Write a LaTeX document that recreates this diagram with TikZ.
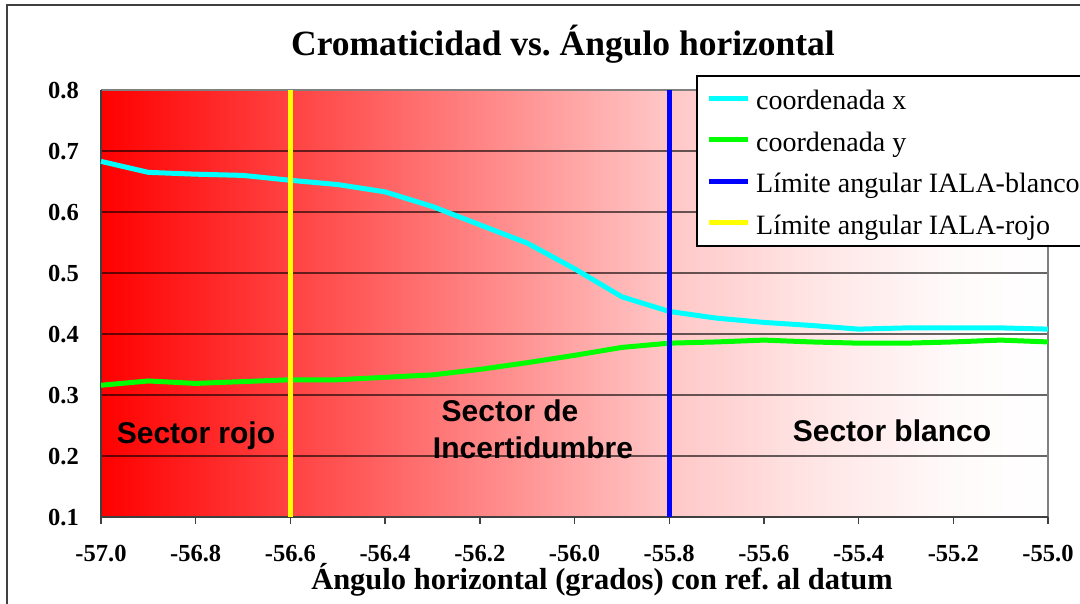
\documentclass[tikz,border=0pt]{standalone}
\usepackage{fontspec}
\setmainfont{Liberation Serif}
\newfontfamily\secfont{Liberation Sans}
\frenchspacing
\definecolor{framegray}{RGB}{64,64,64}
\definecolor{bordergray}{RGB}{128,128,128}
\definecolor{serx}{RGB}{0,255,255}
\definecolor{sery}{RGB}{0,255,0}
\definecolor{limblue}{RGB}{0,0,255}
\definecolor{limyellow}{RGB}{255,255,0}
\definecolor{bgred}{RGB}{255,0,0}
\pgfdeclarehorizontalshading{plotbg}{100bp}{%
  color(0bp)=(bgred); color(25bp)=(bgred);
  color(35bp)=(bgred!74!white);
  color(40.8bp)=(bgred!59!white);
  color(50bp)=(bgred!35!white);
  color(55bp)=(bgred!22!white);
  color(62bp)=(bgred!11!white);
  color(70bp)=(bgred!2!white);
  color(75bp)=(white); color(100bp)=(white)}
\begin{document}
\begin{tikzpicture}[x=1pt,y=-1pt,
  declare function={X(\v)=101+(\v+57)*473.5; Y(\w)=517-(\w-0.1)*610;},
  gridline/.style={black,opacity=0.6,line width=1.4pt},
  series/.style={line width=5pt,line join=round},
  vline/.style={line width=5pt},
  ticklab/.style={font=\fontsize{24.5}{24.5}\selectfont\bfseries,inner sep=0pt},
  sectorlab/.style={font=\secfont\fontsize{30}{30}\selectfont\bfseries,inner sep=0pt,anchor=base},
  legtext/.style={font=\fontsize{28}{28}\selectfont,inner sep=0pt,anchor=base west},
  legsample/.style={line width=5pt}]
\clip (0,0) rectangle (1080,604);
\useasboundingbox (0,0) rectangle (1080,604);
\fill[white] (0,0) rectangle (1080,604);
% outer chart frame
\draw[framegray,line width=2pt] (7,5) rectangle (1090,615);
% title
\node[font=\fontsize{35.5}{35.5}\selectfont\bfseries,inner sep=0pt,anchor=base] (title) at (563,56) {Cromaticidad vs. Ángulo horizontal};
% plot background
\shade[shading=plotbg] (101,90) rectangle (1048,517);
% grid lines
\foreach \g in {0.2,0.3,0.4,0.5,0.6,0.7}
  \draw[gridline] (101,{Y(\g)}) -- (1048,{Y(\g)});
% plot border
\draw[bordergray,line width=1.4pt] (101,90) -- (1048,90) -- (1048,517);
\draw[framegray,line width=1.6pt] (101,90) -- (101,517) -- (1048,517);
% x ticks
\foreach \t in {-57.0,-56.8,-56.6,-56.4,-56.2,-56.0,-55.8,-55.6,-55.4,-55.2,-55.0}
  \draw[framegray,line width=1.4pt] ({X(\t)},517) -- ({X(\t)},524);
% y tick labels
\foreach \l/\n in {0.1/y1,0.2/y2,0.3/y3,0.4/y4,0.5/y5,0.6/y6,0.7/y7,0.8/y8}
  \node[ticklab,anchor=east] (\n) at (79,{Y(\l)+1}) {\l};
% x tick labels
\foreach \t/\n in {-57.0/x1,-56.8/x2,-56.6/x3,-56.4/x4,-56.2/x5,-56.0/x6,-55.8/x7,-55.6/x8,-55.4/x9,-55.2/x10,-55.0/x11}
  \node[ticklab,anchor=base] (\n) at ({X(\t)},561) {\t};
% axis title
\node[font=\fontsize{30.5}{30.5}\selectfont\bfseries,inner sep=0pt,anchor=base] (xtitle) at (602,589.5) {Ángulo horizontal (grados) con ref. al datum};
% sector labels
\node[sectorlab] (rojo) at (196,443) {Sector rojo};
\node[sectorlab] (incert1) at (510,421.5) {Sector de};
\node[sectorlab] (incert2) at (533,458.5) {Incertidumbre};
\node[sectorlab] (blanco) at (892,441) {Sector blanco};
% series
\draw[series,serx] ({X(-57.0)},{Y(0.683)}) -- ({X(-56.9)},{Y(0.665)}) -- ({X(-56.8)},{Y(0.662)}) -- ({X(-56.7)},{Y(0.660)})
  -- ({X(-56.6)},{Y(0.652)}) -- ({X(-56.5)},{Y(0.645)}) -- ({X(-56.4)},{Y(0.633)}) -- ({X(-56.3)},{Y(0.609)})
  -- ({X(-56.2)},{Y(0.579)}) -- ({X(-56.1)},{Y(0.549)}) -- ({X(-56.0)},{Y(0.507)}) -- ({X(-55.9)},{Y(0.461)})
  -- ({X(-55.8)},{Y(0.437)}) -- ({X(-55.7)},{Y(0.426)}) -- ({X(-55.6)},{Y(0.419)}) -- ({X(-55.5)},{Y(0.414)})
  -- ({X(-55.4)},{Y(0.408)}) -- ({X(-55.3)},{Y(0.410)}) -- ({X(-55.2)},{Y(0.410)}) -- ({X(-55.1)},{Y(0.410)})
  -- ({X(-55.0)},{Y(0.408)});
\draw[series,sery] ({X(-57.0)},{Y(0.316)}) -- ({X(-56.9)},{Y(0.323)}) -- ({X(-56.8)},{Y(0.319)}) -- ({X(-56.7)},{Y(0.322)})
  -- ({X(-56.6)},{Y(0.325)}) -- ({X(-56.5)},{Y(0.325)}) -- ({X(-56.4)},{Y(0.329)}) -- ({X(-56.3)},{Y(0.333)})
  -- ({X(-56.2)},{Y(0.342)}) -- ({X(-56.1)},{Y(0.353)}) -- ({X(-56.0)},{Y(0.365)}) -- ({X(-55.9)},{Y(0.378)})
  -- ({X(-55.8)},{Y(0.385)}) -- ({X(-55.7)},{Y(0.387)}) -- ({X(-55.6)},{Y(0.390)}) -- ({X(-55.5)},{Y(0.387)})
  -- ({X(-55.4)},{Y(0.385)}) -- ({X(-55.3)},{Y(0.385)}) -- ({X(-55.2)},{Y(0.387)}) -- ({X(-55.1)},{Y(0.390)})
  -- ({X(-55.0)},{Y(0.387)});
% angular limits
\draw[vline,limblue] ({X(-55.8)},90) -- ({X(-55.8)},517);
\draw[vline,limyellow] ({X(-56.6)},90) -- ({X(-56.6)},517);
% legend
\draw[black,line width=1.5pt,fill=white] (697,76) rectangle (1095,246);
\foreach \c/\yy/\txt/\n in {serx/98.3/coordenada x/l1,sery/140/coordenada y/l2,limblue/181.5/Límite angular IALA-blanco/l3,limyellow/223/Límite angular IALA-rojo/l4}{
  \draw[legsample,\c] (709,\yy) -- (748,\yy);
  \node[legtext] (\n) at (756,\yy+11.5) {\txt};
}
\end{tikzpicture}
\end{document}
